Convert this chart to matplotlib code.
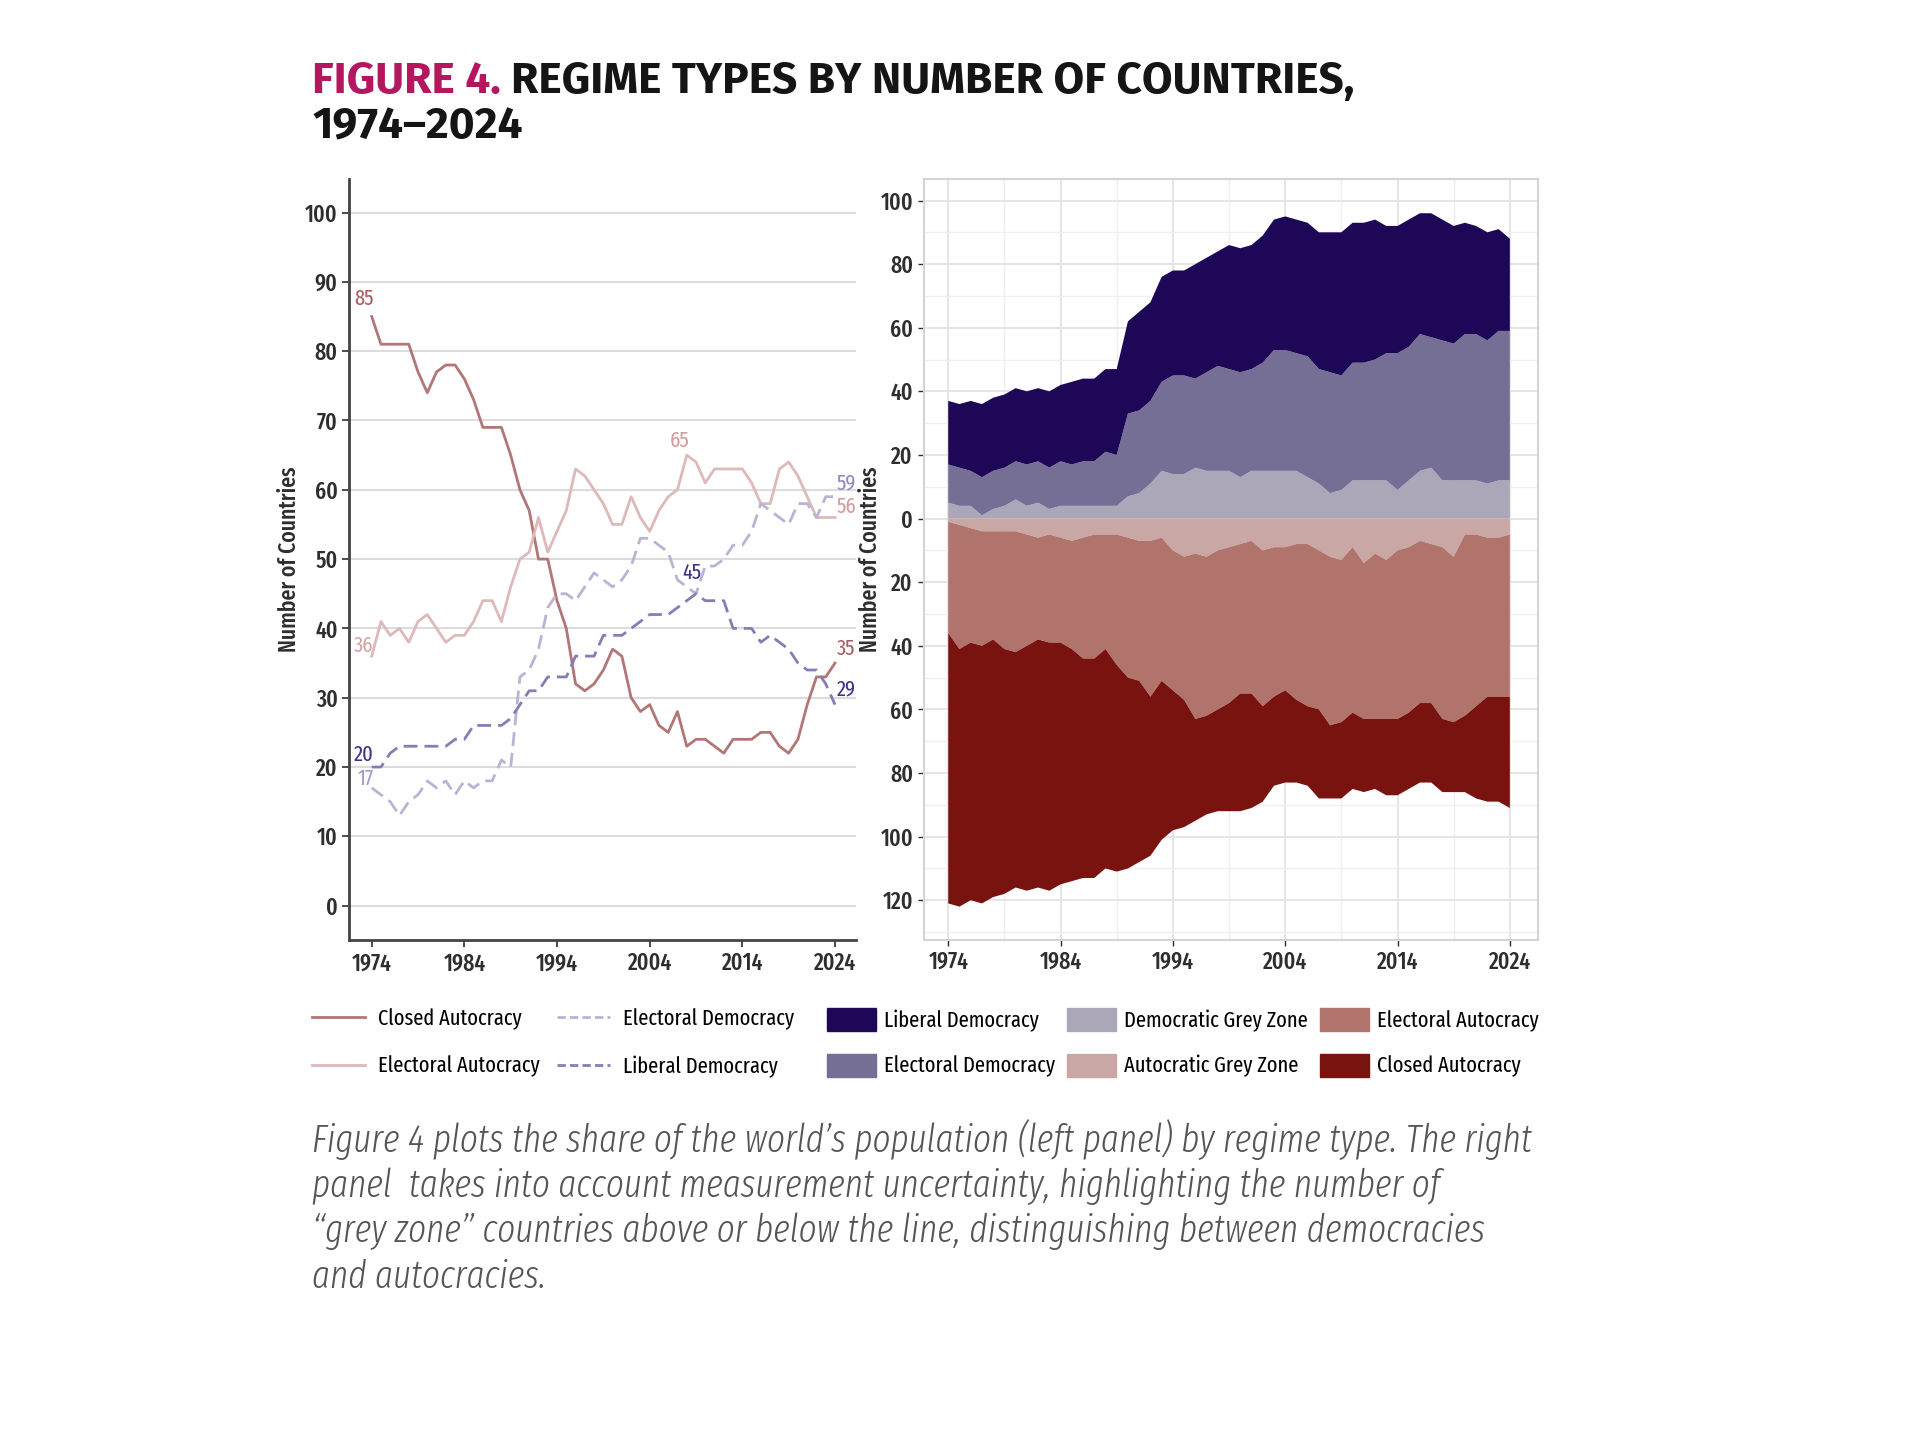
import matplotlib
matplotlib.use('Agg')
import matplotlib.pyplot as plt
import numpy as np
from matplotlib import font_manager as fm
from matplotlib.ticker import MultipleLocator, FuncFormatter
from matplotlib.patches import Patch
from matplotlib.lines import Line2D

available = {f.name for f in fm.fontManager.ttflist}


def pick(*names):
    for n in names:
        if n in available:
            return n
    return 'DejaVu Sans'


body_font = pick('Fira Sans Extra Condensed', 'Fira Sans Condensed', 'PT Sans Narrow', 'Roboto Condensed')
title_font = pick('Fira Sans', 'Fira Sans Condensed', 'PT Sans Narrow')
plt.rcParams['font.family'] = [body_font, 'DejaVu Sans']

years = np.arange(1974, 2025)

closed_autocracy = [85, 81, 81, 81, 81, 77, 74, 77, 78, 78,
                    76, 73, 69, 69, 69, 65, 60, 57, 50, 50,
                    44, 40, 32, 31, 32, 34, 37, 36, 30, 28,
                    29, 26, 25, 28, 23, 24, 24, 23, 22, 24,
                    24, 24, 25, 25, 23, 22, 24, 29, 33, 33,
                    35]
electoral_autocracy = [36, 41, 39, 40, 38, 41, 42, 40, 38, 39,
                       39, 41, 44, 44, 41, 46, 50, 51, 56, 51,
                       54, 57, 63, 62, 60, 58, 55, 55, 59, 56,
                       54, 57, 59, 60, 65, 64, 61, 63, 63, 63,
                       63, 61, 58, 58, 63, 64, 62, 59, 56, 56,
                       56]
electoral_democracy = [17, 16, 15, 13, 15, 16, 18, 17, 18, 16,
                       18, 17, 18, 18, 21, 20, 33, 34, 37, 43,
                       45, 45, 44, 46, 48, 47, 46, 47, 49, 53,
                       53, 52, 51, 47, 46, 45, 49, 49, 50, 52,
                       52, 54, 58, 57, 56, 55, 58, 58, 56, 59,
                       59]
liberal_democracy = [20, 20, 22, 23, 23, 23, 23, 23, 23, 24,
                     24, 26, 26, 26, 26, 27, 29, 31, 31, 33,
                     33, 33, 36, 36, 36, 39, 39, 39, 40, 41,
                     42, 42, 42, 43, 44, 45, 44, 44, 44, 40,
                     40, 40, 38, 39, 38, 37, 35, 34, 34, 32,
                     29]
# grey zone countries (subsets of electoral democracies / electoral autocracies)
democratic_grey = [5, 4, 4, 1, 3, 4, 6, 4, 5, 3,
                   4, 4, 4, 4, 4, 4, 7, 8, 11, 15,
                   14, 14, 16, 15, 15, 15, 13, 15, 15, 15,
                   15, 15, 13, 11, 8, 9, 12, 12, 12, 12,
                   9, 12, 15, 16, 12, 12, 12, 12, 11, 12,
                   12]
autocratic_grey = [1, 2, 3, 4, 4, 4, 4, 5, 6, 5,
                   6, 7, 6, 5, 5, 5, 6, 7, 7, 6,
                   10, 12, 11, 12, 10, 9, 8, 7, 10, 9,
                   9, 8, 8, 10, 12, 13, 9, 14, 11, 13,
                   10, 9, 7, 8, 9, 12, 5, 5, 6, 6,
                   5]

ca = np.array(closed_autocracy)
ea = np.array(electoral_autocracy)
ed = np.array(electoral_democracy)
ld = np.array(liberal_democracy)
dg = np.array(democratic_grey)
ag = np.array(autocratic_grey)

c_ca_line = '#b27676'
c_ea_line = '#ddb9b9'
c_ed_line = '#b9b4d3'
c_ld_line = '#857eb6'

c_ld = '#1f0757'
c_ed = '#756e95'
c_dg = '#aba6b8'
c_ag = '#c8a7a4'
c_ea = '#b1746d'
c_ca = '#79130f'

tick_col = '#2e2e2e'
fs = 17
leg_fs = 16

fig = plt.figure(figsize=(19.2, 14.4), dpi=100)
r = fig.canvas.get_renderer()

# ---- left panel: lines
ax1 = fig.add_axes([0.182, 0.347, 0.264, 0.529])
ax1.plot(years, ca, color=c_ca_line, lw=2)
ax1.plot(years, ea, color=c_ea_line, lw=2)
ax1.plot(years, ed, color=c_ed_line, lw=2, dashes=(5, 2.5))
ax1.plot(years, ld, color=c_ld_line, lw=2, dashes=(5, 2.5))

ax1.set_xlim(1971.6, 2026.3)
ax1.set_ylim(-5, 104.9)
ax1.set_xticks(np.arange(1974, 2025, 10))
ax1.yaxis.set_major_locator(MultipleLocator(10))
ax1.grid(axis='y', color='#dcdcdc', lw=1.5)
ax1.set_axisbelow(True)
for s in ['top', 'right']:
    ax1.spines[s].set_visible(False)
for s in ['left', 'bottom']:
    ax1.spines[s].set_color('#444444')
    ax1.spines[s].set_linewidth(2)
ax1.tick_params(labelsize=fs, colors=tick_col, length=5, width=1.2)
for lb in ax1.get_xticklabels() + ax1.get_yticklabels():
    lb.set_fontweight(500)
ax1.set_ylabel('Number of Countries', fontsize=fs, color=tick_col, fontweight=500)
ax1.yaxis.set_label_coords(-0.096, 0.5)

lab_fs = 16
ax1.text(1974.2, 87.5, '85', color='#a85f62', fontsize=lab_fs, ha='right', va='center')
ax1.text(1974.2, 37.5, '36', color='#d5a3a3', fontsize=lab_fs, ha='right', va='center')
ax1.text(1974.2, 21.7, '20', color='#3f3488', fontsize=lab_fs, ha='right', va='center')
ax1.text(1974.2, 18.3, '17', color='#a19bcc', fontsize=lab_fs, ha='right', va='center')
ax1.text(2007.2, 67, '65', color='#d49a9a', fontsize=lab_fs, ha='center', va='center')
ax1.text(2008.6, 48, '45', color='#3f3488', fontsize=lab_fs, ha='center', va='center')
ax1.text(2024.2, 61, '59', color='#8f89c4', fontsize=lab_fs, ha='left', va='center')
ax1.text(2024.2, 57.6, '56', color='#d49a9a', fontsize=lab_fs, ha='left', va='center')
ax1.text(2024.2, 37, '35', color='#a85f62', fontsize=lab_fs, ha='left', va='center')
ax1.text(2024.2, 31.2, '29', color='#3f3488', fontsize=lab_fs, ha='left', va='center')

# ---- right panel: stacked areas
ax2 = fig.add_axes([0.481, 0.347, 0.320, 0.529])
ax2.stackplot(years, dg, ed - dg, ld, colors=[c_dg, c_ed, c_ld], lw=0)
ax2.stackplot(years, -ag, -(ea - ag), -ca, colors=[c_ag, c_ea, c_ca], lw=0)

ax2.set_xlim(1971.8, 2026.5)
ax2.set_ylim(-132.6, 106.9)
ax2.set_xticks(np.arange(1974, 2025, 10))
ax2.set_xticks(np.arange(1979, 2025, 10), minor=True)
ax2.yaxis.set_major_locator(MultipleLocator(20))
ax2.yaxis.set_minor_locator(MultipleLocator(10))
ax2.yaxis.set_major_formatter(FuncFormatter(lambda v, p: f'{abs(v):.0f}'))
ax2.grid(which='major', color='#e3e3e3', lw=1.3)
ax2.grid(which='minor', color='#efefef', lw=1.0)
ax2.set_axisbelow(True)
for s in ax2.spines.values():
    s.set_color('#d4d4d4')
    s.set_linewidth(1.5)
ax2.tick_params(which='major', labelsize=fs, colors=tick_col, length=4, width=1)
ax2.tick_params(which='minor', length=0)
for lb in ax2.get_xticklabels() + ax2.get_yticklabels():
    lb.set_fontweight(500)
ax2.set_ylabel('Number of Countries', fontsize=fs, color=tick_col, fontweight=500)
ax2.yaxis.set_label_coords(-0.068, 0.5)

# ---- legends, one per column so the columns sit where the reference has them
leg_top = 1 - 1008 / 1440
line_cols = [
    ([Line2D([], [], color=c_ca_line, lw=2), Line2D([], [], color=c_ea_line, lw=2)],
     ['Closed Autocracy', 'Electoral Autocracy'], 312),
    ([Line2D([], [], color=c_ed_line, lw=2, dashes=(3, 1.5)),
      Line2D([], [], color=c_ld_line, lw=2, dashes=(3, 1.5))],
     ['Electoral Democracy', 'Liberal Democracy'], 557),
]
for handles, labels, xpx in line_cols:
    fig.legend(handles, labels, frameon=False, fontsize=leg_fs, loc='upper left',
               bbox_to_anchor=(xpx / 1920, leg_top),
               handlelength=2.4, handletextpad=0.55, labelspacing=1.17,
               borderaxespad=0, borderpad=0)

patch_cols = [
    ([Patch(color=c_ld), Patch(color=c_ed)], ['Liberal Democracy', 'Electoral Democracy'], 827),
    ([Patch(color=c_dg), Patch(color=c_ag)], ['Democratic Grey Zone', 'Autocratic Grey Zone'], 1067),
    ([Patch(color=c_ea), Patch(color=c_ca)], ['Electoral Autocracy', 'Closed Autocracy'], 1320),
]
for handles, labels, xpx in patch_cols:
    fig.legend(handles, labels, frameon=False, fontsize=leg_fs, loc='upper left',
               bbox_to_anchor=(xpx / 1920, leg_top),
               handlelength=2.2, handleheight=1.2, handletextpad=0.36,
               labelspacing=1.0, borderaxespad=0, borderpad=0)

# ---- title, sized so the first line spans the same width as in the reference
title_size = 24
t1 = fig.text(312 / 1920, 1 - 93 / 1440, 'FIGURE 4.', color='#b5175e', fontsize=title_size,
              fontweight='bold', family=title_font, va='baseline')
t2 = fig.text(0, 1 - 93 / 1440, 'REGIME TYPES BY NUMBER OF COUNTRIES,', color='#151515',
              fontsize=title_size, fontweight='bold', family=title_font, va='baseline')
w = t1.get_window_extent(renderer=r).width + 10 + t2.get_window_extent(renderer=r).width
title_size = title_size * 1045 / w
t1.set_fontsize(title_size)
t2.set_fontsize(title_size)
x2 = (t1.get_window_extent(renderer=r).x1 + 10) / 1920
t2.set_x(x2)
fig.text(312 / 1920, 1 - 138 / 1440, '1974\u20132024', color='#151515', fontsize=title_size,
         fontweight='bold', family=title_font, va='baseline')

# ---- caption
caption_lines = ["Figure 4 plots the share of the world\u2019s population (left panel) by regime type. The right",
                 "panel  takes into account measurement uncertainty, highlighting the number of",
                 "\u201cgrey zone\u201d countries above or below the line, distinguishing between democracies",
                 "and autocracies."]
cap_size = 24
probe = fig.text(0, 0, caption_lines[0], fontsize=cap_size, style='italic', fontweight=300)
cap_size = cap_size * 1218 / probe.get_window_extent(renderer=r).width
probe.remove()
fig.text(312 / 1920, 1 - 1119 / 1440, '\n'.join(caption_lines), color='#555555',
         fontsize=cap_size, style='italic', fontweight=300,
         va='top', ha='left', linespacing=1.26)

fig.savefig('out.png', dpi=100, facecolor='white')
